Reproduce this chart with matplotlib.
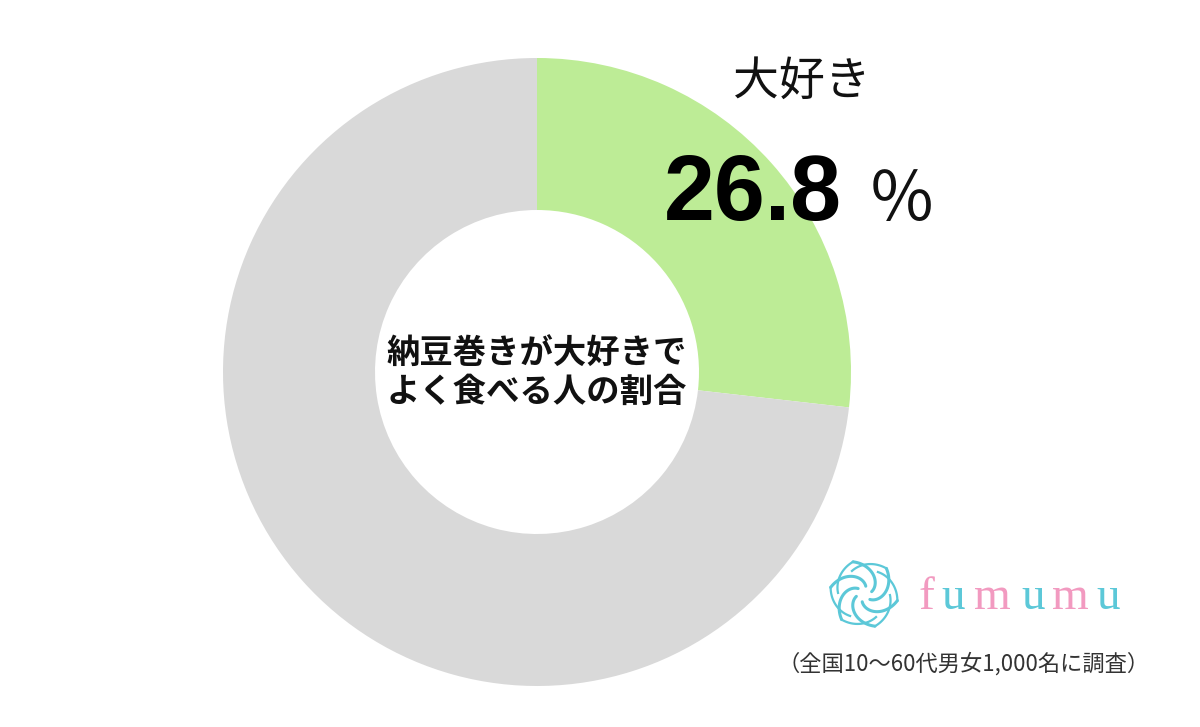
import matplotlib
matplotlib.use("Agg")
import matplotlib.pyplot as plt
import numpy as np

categories = ["大好き", "その他"]
values = [26.8, 73.2]
colors = ["#BDEC96", "#D9D9D9"]
center_label = "納豆巻きが大好きで\nよく食べる人の割合"
value_text = "26.8"
unit_text = "％"
note_text = "（全国10～60代男女1,000名に調査）"
brand = "fumumu"
brand_colors = ["#F29AC0", "#5CC8D8", "#F29AC0", "#5CC8D8", "#F29AC0", "#5CC8D8"]

JP = ["Noto Sans CJK JP", "DejaVu Sans"]

fig = plt.figure(figsize=(12, 7.27), dpi=100)
ax = fig.add_axes([0, 0, 1, 1])

H = 727
cx, cy, R = 537, H - 372, 314
ax.pie(values, colors=colors, startangle=90, counterclock=False,
       center=(cx, cy), radius=R, wedgeprops=dict(width=R - 162, linewidth=0),
       frame=True)
ax.set_xlim(0, 1200)
ax.set_ylim(0, 727)
ax.set_aspect("equal")
ax.axis("off")

ax.text(cx, H - 373, center_label, ha="center", va="center", fontsize=24,
        family=JP, fontweight="bold", linespacing=1.22, color="#111111")

ax.text(802, H - 82, categories[0], ha="center", va="center", fontsize=33,
        family=JP, color="#111111")
ax.text(842, H - 220, value_text, ha="right", va="baseline", fontsize=66,
        family=["Liberation Sans", "DejaVu Sans"], fontweight="bold", color="#000000")
ax.text(902, H - 221, unit_text, ha="center", va="baseline", fontsize=49,
        family=JP, color="#111111")

# logo flower
lx, ly = 864, H - 594
for k in range(6):
    a = k * np.pi / 3 + 0.3
    s = np.linspace(0, 1, 100)
    rr = 8 + 26 * s
    th = a + 1.6 * s
    ax.plot(lx + rr * np.cos(th), ly + rr * np.sin(th),
            color="#5CC8D8", lw=2.2, solid_capstyle="round")
    s2 = np.linspace(0, 1, 60)
    th2 = a + 1.6 + 1.2 * s2
    ax.plot(lx + (34 - 8 * s2) * np.cos(th2), ly + (34 - 8 * s2) * np.sin(th2),
            color="#5CC8D8", lw=1.6)

brand_x = [919, 941, 974, 1021, 1052, 1096]
for ch, c, x in zip(brand, brand_colors, brand_x):
    ax.text(x, H - 609, ch, ha="left", va="baseline", fontsize=34,
            family=["Liberation Serif", "DejaVu Serif"], color=c)

ax.text(1150, H - 664, note_text, ha="right", va="center", fontsize=16,
        family=JP, color="#333333")

fig.savefig("out.png", dpi=100, facecolor="white")
